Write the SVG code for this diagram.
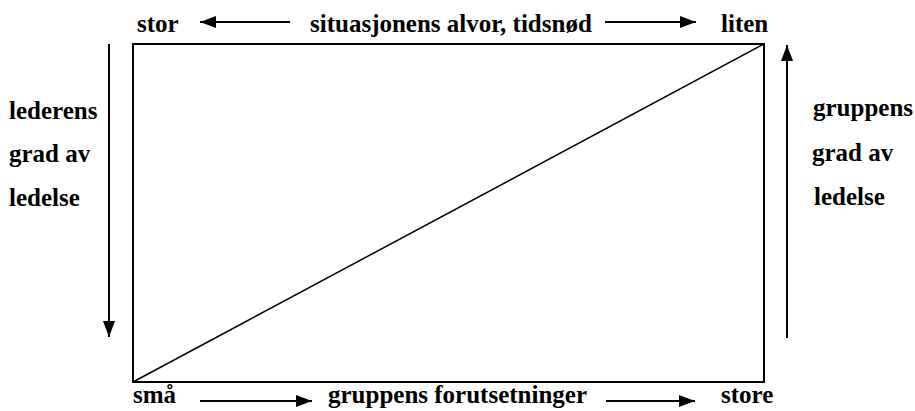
<svg xmlns="http://www.w3.org/2000/svg" width="915" height="411" viewBox="0 0 915 411">
<style>
text { font-family: "Liberation Serif", "Times New Roman", serif; font-weight: bold; font-size: 25px; fill: #000; }
.ln { stroke: #000; stroke-width: 2; fill: none; }
</style>
<defs>
<marker id="ah" markerUnits="userSpaceOnUse" markerWidth="18" markerHeight="14" refX="16" refY="6" orient="auto">
<path d="M0,0 L16,6 L0,12 Z" fill="#000"/>
</marker>
</defs>
<g id="frame">
<rect x="133" y="44" width="631" height="338" class="ln"/>
<line x1="133" y1="382" x2="764" y2="44" stroke="#000" stroke-width="1.5"/>
</g>
<g id="connectors">
<line x1="290" y1="22" x2="200" y2="22" class="ln" marker-end="url(#ah)"/>
<line x1="605" y1="22" x2="696" y2="22" class="ln" marker-end="url(#ah)"/>
<line x1="109" y1="44" x2="109" y2="337" class="ln" marker-end="url(#ah)"/>
<line x1="787" y1="338" x2="787" y2="45" class="ln" marker-end="url(#ah)"/>
<line x1="200" y1="401" x2="312" y2="401" class="ln" marker-end="url(#ah)"/>
<line x1="606" y1="401" x2="695" y2="401" class="ln" marker-end="url(#ah)"/>
</g>
<g id="top-labels">
<text x="137" y="32">stor</text>
<text x="310" y="32">situasjonens alvor, tidsnød</text>
<text x="721" y="32">liten</text>
</g>
<g id="left-label">
<text x="9" y="119">lederens</text>
<text x="9" y="162">grad av</text>
<text x="9" y="206">ledelse</text>
</g>
<g id="right-label">
<text x="813" y="116">gruppens</text>
<text x="812" y="161">grad av</text>
<text x="814" y="205">ledelse</text>
</g>
<g id="bottom-labels">
<text x="133" y="403">små</text>
<text x="328" y="403">gruppens forutsetninger</text>
<text x="721" y="403">store</text>
</g>
</svg>
